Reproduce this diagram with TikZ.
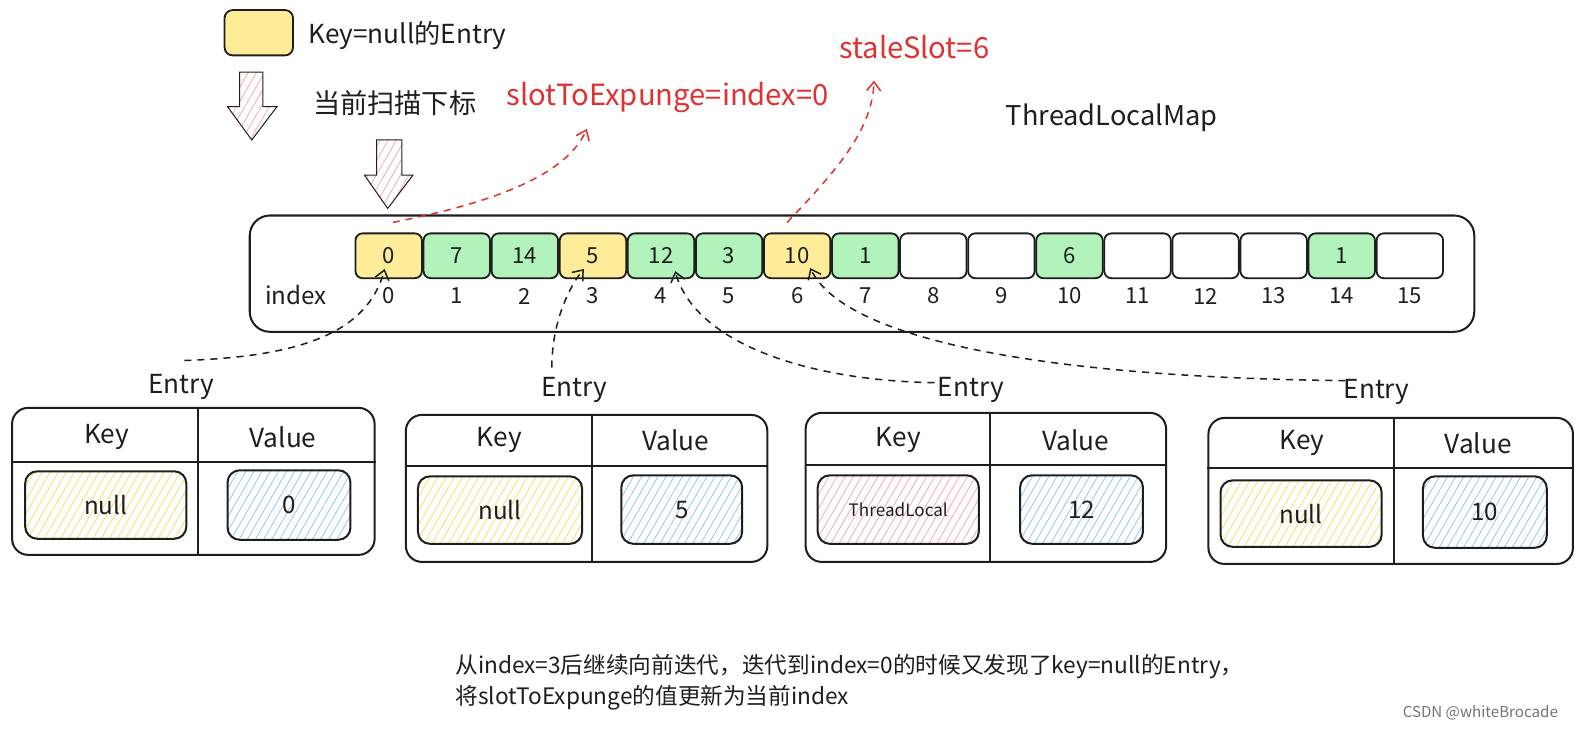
\documentclass[tikz,border=0pt]{standalone}
\usepackage{fontspec}
\setmainfont{Noto Sans CJK SC}
\usetikzlibrary{arrows.meta,patterns.meta,calc}
\definecolor{ink}{HTML}{1E1E1E}
\definecolor{cyel}{HTML}{FFEC99}
\definecolor{cgrn}{HTML}{B2F2BB}
\definecolor{hyel}{HTML}{F8DF78}
\definecolor{hblu}{HTML}{98CCF5}
\definecolor{hred}{HTML}{F7B0B0}
\definecolor{exred}{HTML}{E03131}
\newcommand\fsz[2]{\fontsize{#1}{#2}\selectfont}
\begin{document}
\begin{tikzpicture}[x=1pt,y=-1pt,
 every node/.style={text=ink, inner sep=0pt},
 cell/.style={draw=ink, line width=1.8pt, rounded corners=7pt, minimum width=66pt, minimum height=44.5pt, font=\fsz{22}{26}},
 idx/.style={font=\fsz{22}{26}},
 hatch/.style={pattern={Lines[angle=60,distance=7pt,line width=0.9pt]}, pattern color=#1},
 entrybox/.style={draw=ink, line width=2pt, rounded corners=16pt},
 divline/.style={draw=ink, line width=1.8pt},
 inbox/.style={draw=ink, line width=2pt, rounded corners=12pt, font=\fsz{24}{28}},
 hdr/.style={font=\fsz{26}{30}},
 ttl/.style={font=\fsz{26}{30}},
 conn/.style={draw=ink, line width=1.5pt, dash pattern=on 7pt off 6pt, -{Straight Barb[length=9pt,width=14pt]}},
 rconn/.style={draw=exred, line width=1.5pt, dash pattern=on 7pt off 6pt, -{Straight Barb[length=9pt,width=14pt]}},
 redlbl/.style={text=exred, font=\fsz{29}{34}},
 blockarrow/.style={draw=ink, line width=1pt, hatch=hred},
]
\useasboundingbox (0,0) rectangle (1568,723);

% legend
\node[draw=ink, line width=1.8pt, fill=cyel, rounded corners=8pt, minimum width=68pt, minimum height=45pt] (leg) at (257,32.5) {};
\node[anchor=west, font=\fsz{26}{30}] (legt) at (306,35) {Key=null的Entry};
\draw[blockarrow] (238,71.5) -- (261,71.5) -- (261,106) -- (275,106) -- (250,139) -- (226,106) -- (238,106) -- cycle;
\node[font=\fsz{27}{31}] (scan) at (392,102) {当前扫描下标};
\draw[blockarrow] (374,139) -- (399,139) -- (399,174) -- (410,174) -- (385,207) -- (362,174) -- (374,174) -- cycle;

% labels
\node[redlbl] (slot) at (663,97) {slotToExpunge=index=0};
\node[redlbl] (stale) at (908,47) {staleSlot=6};
\node[font=\fsz{27}{31}] (tlm) at (1104,117) {ThreadLocalMap};

% array
\node[draw=ink, line width=2pt, rounded corners=20pt, minimum width=1216pt, minimum height=115.5pt] (arr) at (856,271.75) {};
\node[idx, font=\fsz{24}{28}] (ix) at (294,293) {index};
\foreach \i/\v/\c in {0/0/cyel,1/7/cgrn,2/14/cgrn,3/5/cyel,4/12/cgrn,5/3/cgrn,6/10/cyel,7/1/cgrn,8//white,9//white,10/6/cgrn,11//white,12//white,13//white,14/1/cgrn,15//white}{
  \node[cell, fill=\c] (c\i) at ({386+67.6*\i},254) {\v};
  \node[idx] (n\i) at ({386+67.6*\i},294) {\i};
}

% entry 1
\node[ttl] (t1) at (180,384) {Entry};
\node[entrybox, minimum width=360pt, minimum height=146pt] (e1) at (192,478) {};
\draw[divline] (e1.west |- 0,459) -- (e1.east |- 0,459);
\draw[divline] (197,0 |- e1.north) -- (197,0 |- e1.south);
\node[hdr] (kh1) at (106,434) {Key};
\node[hdr] (vh1) at (281,434) {Value};
\node[inbox, hatch=hyel, minimum width=160pt, minimum height=67pt] (k1) at (105,501.5) {null};
\node[inbox, hatch=hblu, minimum width=122pt, minimum height=69pt] (v1) at (287,501.5) {0};

% entry 2
\node[ttl] (t2) at (570,387) {Entry};
\node[entrybox, minimum width=359pt, minimum height=146pt] (e2) at (582.5,485) {};
\draw[divline] (e2.west |- 0,463) -- (e2.east |- 0,463);
\draw[divline] (588,0 |- e2.north) -- (588,0 |- e2.south);
\node[hdr] (kh2) at (496,437) {Key};
\node[hdr] (vh2) at (671,437) {Value};
\node[inbox, hatch=hyel, minimum width=163pt, minimum height=67pt] (k2) at (496.5,506.5) {null};
\node[inbox, hatch=hblu, minimum width=120pt, minimum height=68pt] (v2) at (677,506) {5};

% entry 3
\node[ttl] (t3) at (964,387) {Entry};
\node[entrybox, minimum width=358pt, minimum height=148pt] (e3) at (979,484) {};
\draw[divline] (e3.west |- 0,462) -- (e3.east |- 0,462);
\draw[divline] (983,0 |- e3.north) -- (983,0 |- e3.south);
\node[hdr] (kh3) at (892,437) {Key};
\node[hdr] (vh3) at (1068,437) {Value};
\node[inbox, hatch=hred, minimum width=160pt, minimum height=68pt, font=\fsz{17}{20}] (k3) at (892,506) {ThreadLocal};
\node[inbox, hatch=hblu, minimum width=122pt, minimum height=68pt] (v3) at (1074,506) {12};

% entry 4
\node[ttl] (t4) at (1367,389) {Entry};
\node[entrybox, minimum width=362pt, minimum height=145pt] (e4) at (1381,487.5) {};
\draw[divline] (e4.west |- 0,465) -- (e4.east |- 0,465);
\draw[divline] (1384,0 |- e4.north) -- (1384,0 |- e4.south);
\node[hdr] (kh4) at (1293,440) {Key};
\node[hdr] (vh4) at (1468,440) {Value};
\node[inbox, hatch=hyel, minimum width=160pt, minimum height=66pt] (k4) at (1292,510) {null};
\node[inbox, hatch=hblu, minimum width=123pt, minimum height=71pt] (v4) at (1474.5,508.5) {10};

% connectors
\coordinate (s1) at (183,358);
\coordinate (s2) at (548,365);
\coordinate (s3) at (928,380);
\coordinate (s4) at (1336,378);
\draw[conn] (s1) .. controls (300,354) and (365,330) .. ($(c0.south)+(-4,-10)$);
\draw[conn] (s2) .. controls (548,320) and (565,285) .. ($(c3.south)+(-9,-10)$);
\draw[conn] (s3) .. controls (800,378) and (690,340) .. ($(c4.south)+(14,-8)$);
\draw[conn] (s4) .. controls (1050,375) and (840,340) .. ($(c6.south)+(13,-11)$);
\draw[rconn] ($(c0.north)+(4,-10)$) .. controls (470,205) and (560,180) .. ($(slot.west)+(80,31)$);
\draw[rconn] ($(c6.north)+(-10,-10)$) .. controls (830,170) and (866,130) .. ($(stale.center)+(-40,33)$);

% note
\node[anchor=west, align=left, font=\fsz{22.5}{31}] (note) at (452,677.5) {从index=3后继续向前迭代，迭代到index=0的时候又发现了key=null的Entry，\\将slotToExpunge的值更新为当前index};
\node[text=black!55, font=\fsz{15}{18}] (wm) at (1470,708) {CSDN @whiteBrocade};
\end{tikzpicture}
\end{document}
